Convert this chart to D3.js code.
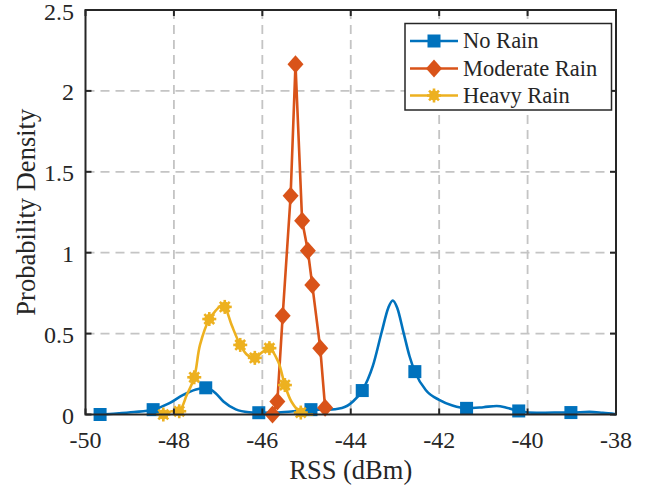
<!DOCTYPE html>
<html><head><meta charset="utf-8">
<script src="https://cdn.jsdelivr.net/npm/d3@7"></script>
<style>body{margin:0;background:#fff}svg{display:block}text{font-family:"Liberation Serif","Times New Roman",serif;fill:#262626}</style>
</head><body><svg id="c" width="654" height="488"></svg>
<script>
// ---- data ----
const seriesNames = ["No Rain", "Moderate Rain", "Heavy Rain"];
const seriesColors = ["#0072BD", "#D95319", "#EDB120"];
const xTicks = [-50, -48, -46, -44, -42, -40, -38];
const yTicks = [0, 0.5, 1, 1.5, 2, 2.5];
const yTickLabels = ["0", "0.5", "1", "1.5", "2", "2.5"];

// No Rain: density curve points
const noRainX = [-49.67,-49.3,-48.9,-48.47,-48.1,-47.8,-47.5,-47.28,-47.05,-46.88,-46.6,-46.3,-46.08,-45.7,-45.3,-44.9,-44.5,-44.2,-43.95,-43.74,-43.5,-43.3,-43.15,-43.05,-42.95,-42.8,-42.67,-42.55,-42.3,-42.0,-41.7,-41.38,-41.0,-40.7,-40.45,-40.2,-39.8,-39.4,-39.02,-38.6,-38.3,-38.0];
const noRainY = [0.0,0.006,0.015,0.03,0.07,0.12,0.155,0.165,0.13,0.08,0.032,0.014,0.011,0.012,0.02,0.03,0.03,0.04,0.08,0.148,0.30,0.51,0.66,0.705,0.66,0.50,0.36,0.265,0.15,0.09,0.055,0.038,0.045,0.053,0.04,0.022,0.01,0.012,0.012,0.016,0.01,0.002];
const noRainMarkX = [-49.67,-48.47,-47.28,-46.08,-44.9,-43.74,-42.55,-41.38,-40.2,-39.02];
const noRainMarkY = [0.0,0.03,0.165,0.011,0.03,0.148,0.265,0.038,0.022,0.012];

// Moderate Rain
const modX = [-45.77,-45.66,-45.54,-45.36,-45.25,-45.1,-44.97,-44.87,-44.69,-44.58];
const modY = [0.0,0.08,0.61,1.352,2.164,1.198,1.012,0.80,0.41,0.042];

// Heavy Rain
const heavyX = [-48.24,-48.05,-47.88,-47.71,-47.54,-47.41,-47.2,-47.06,-46.92,-46.85,-46.69,-46.5,-46.35,-46.17,-46.0,-45.84,-45.64,-45.49,-45.34,-45.13,-44.95,-44.85];
const heavyY = [0.0,0.02,0.02,0.12,0.23,0.43,0.59,0.64,0.675,0.665,0.55,0.43,0.37,0.35,0.385,0.41,0.326,0.182,0.079,0.012,0.0,0.0];
const heavyMarkX = [-48.24,-47.88,-47.54,-47.2,-46.85,-46.5,-46.17,-45.84,-45.49,-45.13];
const heavyMarkY = [0.0,0.02,0.23,0.59,0.665,0.43,0.35,0.41,0.182,0.012];

// ---- layout ----
const svg = d3.select("#c");
const L = 85.5, R = 616, T = 10, B = 414.5;
const x = d3.scaleLinear().domain([-50, -38]).range([L, R]);
const y = d3.scaleLinear().domain([0, 2.5]).range([B, T]);
const axisColor = "#262626";

// grid
const g = svg.append("g");
g.selectAll(".gx").data(xTicks.slice(1, -1)).join("line")
  .attr("x1", d => x(d)).attr("x2", d => x(d)).attr("y1", T).attr("y2", B)
  .attr("stroke", "#c4c4c4").attr("stroke-width", 1.8).attr("stroke-dasharray", "9,6");
g.selectAll(".gy").data(yTicks.slice(1, -1)).join("line")
  .attr("y1", d => y(d)).attr("y2", d => y(d)).attr("x1", L).attr("x2", R)
  .attr("stroke", "#c4c4c4").attr("stroke-width", 1.8).attr("stroke-dasharray", "9,6");

const plot = svg.append("g");

function drawLine(xs, ys, color, curve) {
  const pts = xs.map((v, i) => [v, ys[i]]);
  plot.append("path").datum(pts)
    .attr("d", d3.line().x(d => x(d[0])).y(d => y(d[1])).curve(curve))
    .attr("fill", "none").attr("stroke", color).attr("stroke-width", 2.6)
    .attr("stroke-linejoin", "round");
}
function square(gg, cx, cy, color, s) {
  gg.append("rect").attr("x", cx - s / 2).attr("y", cy - s / 2).attr("width", s).attr("height", s).attr("fill", color);
}
function diamond(gg, cx, cy, color, w, h) {
  gg.append("path").attr("d", `M${cx},${cy - h / 2}L${cx + w / 2},${cy}L${cx},${cy + h / 2}L${cx - w / 2},${cy}Z`).attr("fill", color);
}
function asterisk(gg, cx, cy, color, r) {
  const a = gg.append("g").attr("transform", `translate(${cx},${cy})`);
  a.append("circle").attr("r", r * 0.72).attr("fill", color);
  for (let k = 0; k < 4; k++) {
    const ang = k * Math.PI / 4;
    a.append("line").attr("x1", -r * Math.cos(ang)).attr("y1", -r * Math.sin(ang))
      .attr("x2", r * Math.cos(ang)).attr("y2", r * Math.sin(ang))
      .attr("stroke", color).attr("stroke-width", 2.6).attr("stroke-linecap", "butt");
  }
}

// No Rain
drawLine(noRainX, noRainY, seriesColors[0], d3.curveMonotoneX);
noRainMarkX.forEach((v, i) => square(plot, x(v), y(noRainMarkY[i]), seriesColors[0], 13));
// Moderate Rain
drawLine(modX, modY, seriesColors[1], d3.curveLinear);
modX.forEach((v, i) => diamond(plot, x(v), y(modY[i]), seriesColors[1], 16, 18));
// Heavy Rain
drawLine(heavyX, heavyY, seriesColors[2], d3.curveCatmullRom);
heavyMarkX.forEach((v, i) => asterisk(plot, x(v), y(heavyMarkY[i]), seriesColors[2], 7));

// axes box
svg.append("rect").attr("x", L).attr("y", T).attr("width", R - L).attr("height", B - T)
  .attr("fill", "none").attr("stroke", axisColor).attr("stroke-width", 2);
// ticks (inside)
const tl = 6;
xTicks.forEach(v => {
  svg.append("line").attr("x1", x(v)).attr("x2", x(v)).attr("y1", B).attr("y2", B - tl).attr("stroke", axisColor).attr("stroke-width", 2);
  svg.append("line").attr("x1", x(v)).attr("x2", x(v)).attr("y1", T).attr("y2", T + tl).attr("stroke", axisColor).attr("stroke-width", 2);
});
yTicks.forEach(v => {
  svg.append("line").attr("x1", L).attr("x2", L + tl).attr("y1", y(v)).attr("y2", y(v)).attr("stroke", axisColor).attr("stroke-width", 2);
  svg.append("line").attr("x1", R).attr("x2", R - tl).attr("y1", y(v)).attr("y2", y(v)).attr("stroke", axisColor).attr("stroke-width", 2);
});
// tick labels
svg.selectAll(".xt").data(xTicks).join("text")
  .attr("x", d => x(d)).attr("y", 448).attr("text-anchor", "middle")
  .attr("font-size", 24).text(d => String(d));
svg.selectAll(".yt").data(yTicks).join("text")
  .attr("x", 74).attr("y", d => y(d) + 9.5).attr("text-anchor", "end")
  .attr("font-size", 24).text((d, i) => yTickLabels[i]);
// axis labels
svg.append("text").attr("x", (L + R) / 2).attr("y", 479).attr("text-anchor", "middle")
  .attr("font-size", 26.5).text("RSS (dBm)");
svg.append("text").attr("transform", `translate(34.5,${(T + B) / 2}) rotate(-90)`)
  .attr("text-anchor", "middle").attr("font-size", 26.5).text("Probability Density");

// legend
const lg = svg.append("g");
lg.append("rect").attr("x", 405).attr("y", 23.5).attr("width", 206.5).attr("height", 86.5)
  .attr("fill", "#fff").attr("stroke", axisColor).attr("stroke-width", 1.5);
const rowY = [41, 68.5, 95.5];
seriesNames.forEach((name, i) => {
  lg.append("line").attr("x1", 410).attr("x2", 458).attr("y1", rowY[i]).attr("y2", rowY[i])
    .attr("stroke", seriesColors[i]).attr("stroke-width", 2.6);
  if (i === 0) square(lg, 434, rowY[i], seriesColors[0], 13);
  if (i === 1) diamond(lg, 434, rowY[i], seriesColors[1], 16, 18);
  if (i === 2) asterisk(lg, 434, rowY[i], seriesColors[2], 7);
  lg.append("text").attr("x", 463).attr("y", rowY[i] + 7).attr("font-size", 22.5).text(name);
});
</script></body></html>
